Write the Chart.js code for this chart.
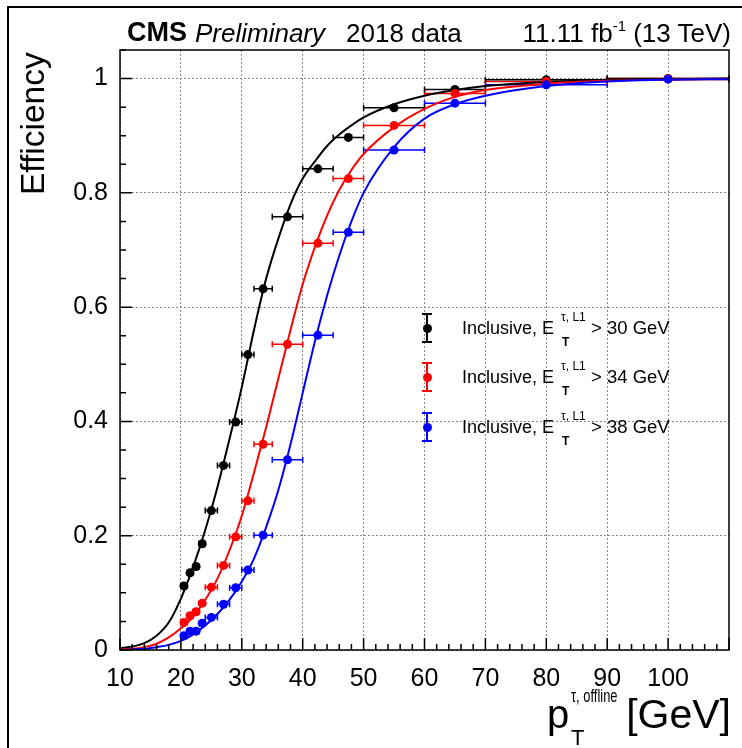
<!DOCTYPE html>
<html lang="en">
<head>
<meta charset="UTF-8">
<title>L1 tau trigger efficiency 2018</title>
<script src="https://cdn.jsdelivr.net/npm/chart.js@4.4.1/dist/chart.umd.min.js"></script>
<style>
  body { margin: 0; background: #fff; }
  #wrap { position: relative; width: 742px; height: 748px; overflow: hidden;
          font-family: "Liberation Sans", Arial, sans-serif; color: #000; }
  #frame { position: absolute; left: 7px; top: 6px; width: 800px; height: 800px;
           border-top: 2px solid #000; border-left: 2px solid #000; }
  canvas { position: absolute; left: 0; top: 0; }
  .t { position: absolute; white-space: nowrap; line-height: 1; }
  .mk { position: absolute; }
  .mk .bar { position: absolute; left: -1px; top: -14px; width: 2px; height: 28px; }
  .mk .cap { position: absolute; left: -5px; width: 10px; height: 2px; }
  .mk .dot { position: absolute; left: -4.5px; top: -4.5px; width: 9px; height: 9px; border-radius: 50%; }
</style>
</head>
<body>
<div id="wrap">
  <div id="frame"></div>
  <canvas id="chart" width="742" height="748"></canvas>

  <!-- header -->
  <div class="t" style="left:127px; top:19px; font-size:27px; font-weight:bold;">CMS</div>
  <div class="t" style="left:195px; top:20px; font-size:26px; font-style:italic;">Preliminary</div>
  <div class="t" style="left:346px; top:20px; font-size:26px;">2018 data</div>
  <div class="t" style="right:11px; top:20px; font-size:26px;">11.11 fb<span style="font-size:15px; position:relative; top:-11px;">-1</span> (13 TeV)</div>

  <!-- axis titles -->
  <div class="t" style="left:16px; top:195px; font-size:33.5px; transform-origin:0 0; transform:rotate(-90deg);">Efficiency</div>
  <div class="t" style="left:547px; top:694px; font-size:40px;">p</div>
  <div class="t" style="left:571px; top:686px; font-size:19px; transform-origin:0 0; transform:scaleX(0.68);">&tau;, offline</div>
  <div class="t" style="left:571px; top:727px; font-size:22px;">T</div>
  <div class="t" style="right:11px; top:694px; font-size:41px;">[GeV]</div>

  <!-- legend -->
  <div class="mk" style="left:427px; top:328px;"><div class="bar" style="background:#000"></div><div class="cap" style="top:-15px; background:#000"></div><div class="cap" style="top:13px; background:#000"></div><div class="dot" style="background:#000"></div></div>
  <div class="t" style="left:462px; top:319px; font-size:18px;">Inclusive, E</div>
  <div class="t" style="left:561px; top:311px; font-size:12px;">&tau;, L1</div>
  <div class="t" style="left:562px; top:336px; font-size:12px; font-weight:bold;">T</div>
  <div class="t" style="left:591px; top:319px; font-size:18.5px;">&gt; 30 GeV</div>

  <div class="mk" style="left:427px; top:377px;"><div class="bar" style="background:#f00"></div><div class="cap" style="top:-15px; background:#f00"></div><div class="cap" style="top:13px; background:#f00"></div><div class="dot" style="background:#f00"></div></div>
  <div class="t" style="left:462px; top:368px; font-size:18px;">Inclusive, E</div>
  <div class="t" style="left:561px; top:360px; font-size:12px;">&tau;, L1</div>
  <div class="t" style="left:562px; top:385px; font-size:12px; font-weight:bold;">T</div>
  <div class="t" style="left:591px; top:368px; font-size:18.5px;">&gt; 34 GeV</div>

  <div class="mk" style="left:427px; top:427px;"><div class="bar" style="background:#00f"></div><div class="cap" style="top:-15px; background:#00f"></div><div class="cap" style="top:13px; background:#00f"></div><div class="dot" style="background:#00f"></div></div>
  <div class="t" style="left:462px; top:418px; font-size:18px;">Inclusive, E</div>
  <div class="t" style="left:561px; top:410px; font-size:12px;">&tau;, L1</div>
  <div class="t" style="left:562px; top:435px; font-size:12px; font-weight:bold;">T</div>
  <div class="t" style="left:591px; top:418px; font-size:18.5px;">&gt; 38 GeV</div>
</div>

<script>
// offline tau pT bins [GeV]
const binCenter = [20.5, 21.5, 22.5, 23.5, 25, 27, 29, 31, 33.5, 37.5, 42.5, 47.5, 55, 65, 80, 100];
const binLow    = [20, 21, 22, 23, 24, 26, 28, 30, 32, 35, 40, 45, 50, 60, 70, 90];
const binHigh   = [21, 22, 23, 24, 26, 28, 30, 32, 35, 40, 45, 50, 60, 70, 90, 110];

// measured efficiencies per L1 threshold
const eff30 = [0.112, 0.135, 0.146, 0.186, 0.244, 0.323, 0.399, 0.517, 0.632, 0.758, 0.842, 0.897, 0.949, 0.981, 0.998, 1.0];
const eff34 = [0.048, 0.060, 0.067, 0.082, 0.110, 0.148, 0.198, 0.261, 0.360, 0.535, 0.712, 0.825, 0.918, 0.974, 0.995, 1.0];
const eff38 = [0.025, 0.033, 0.033, 0.047, 0.057, 0.080, 0.109, 0.140, 0.201, 0.333, 0.551, 0.731, 0.875, 0.957, 0.989, 0.999];

// fitted curves
const fitX  = [10, 12, 14, 16, 18, 20, 22, 24, 26, 28, 30, 32, 34, 36, 38, 40, 42, 44, 46, 48, 50, 55, 60, 65, 70, 80, 90, 100, 110];
const fit30 = [0.003, 0.006, 0.012, 0.025, 0.048, 0.09, 0.145, 0.21, 0.285, 0.37, 0.46, 0.56, 0.65, 0.72, 0.78, 0.825, 0.855, 0.882, 0.902, 0.918, 0.932, 0.955, 0.97, 0.98, 0.987, 0.994, 0.997, 0.999, 1.0];
const fit34 = [0.001, 0.002, 0.005, 0.011, 0.022, 0.038, 0.058, 0.088, 0.125, 0.175, 0.235, 0.31, 0.39, 0.475, 0.56, 0.64, 0.705, 0.76, 0.805, 0.84, 0.868, 0.915, 0.947, 0.968, 0.98, 0.991, 0.996, 0.998, 0.999];
const fit38 = [0.0, 0.001, 0.002, 0.005, 0.009, 0.016, 0.027, 0.043, 0.063, 0.088, 0.12, 0.16, 0.215, 0.28, 0.36, 0.45, 0.54, 0.62, 0.69, 0.75, 0.80, 0.88, 0.93, 0.955, 0.97, 0.987, 0.995, 0.998, 0.999];

const xTicks = [10, 20, 30, 40, 50, 60, 70, 80, 90, 100];
const yTicks = [0, 0.2, 0.4, 0.6, 0.8, 1];

const pts = (xs, ys) => xs.map((v, i) => ({x: v, y: ys[i]}));

function fitSet(data, color, order) {
  return { data: pts(fitX, data), showLine: true, borderColor: color, borderWidth: 2,
           pointRadius: 0, cubicInterpolationMode: 'monotone', order: order };
}
function effSet(data, color, order) {
  return { data: pts(binCenter, data), showLine: false, borderColor: color, backgroundColor: color,
           pointRadius: 4.5, pointBorderWidth: 0, order: order, xLow: binLow, xHigh: binHigh };
}

// horizontal bin-width bars
const errorBars = {
  id: 'errorBars',
  beforeDatasetsDraw(chart) {
    const {ctx, scales: {x, y}} = chart;
    chart.data.datasets.forEach(ds => {
      if (!ds.xLow) return;
      ctx.save();
      ctx.strokeStyle = ds.borderColor;
      ctx.lineWidth = 1.5;
      ds.data.forEach((p, k) => {
        const py = y.getPixelForValue(p.y);
        const x0 = x.getPixelForValue(ds.xLow[k]);
        const x1 = x.getPixelForValue(ds.xHigh[k]);
        ctx.beginPath();
        ctx.moveTo(x0, py); ctx.lineTo(x1, py);
        ctx.moveTo(x0, py - 3); ctx.lineTo(x0, py + 3);
        ctx.moveTo(x1, py - 3); ctx.lineTo(x1, py + 3);
        ctx.stroke();
      });
      ctx.restore();
    });
  }
};

// ROOT style frame with ticks pointing inwards
const rootFrame = {
  id: 'rootFrame',
  afterDatasetsDraw(chart) {
    const {ctx, chartArea: a, scales: {x, y}} = chart;
    ctx.save();
    ctx.strokeStyle = '#000';
    ctx.lineWidth = 1.5;
    ctx.strokeRect(a.left, a.top, a.right - a.left, a.bottom - a.top);
    ctx.beginPath();
    for (let v = 10; v <= 110; v += 2) {
      const px = x.getPixelForValue(v);
      const len = (v % 10 === 0) ? 12 : 6;
      ctx.moveTo(px, a.bottom); ctx.lineTo(px, a.bottom - len);
    }
    for (let i = 0; i <= 21; i++) {
      const py = y.getPixelForValue(i * 0.05);
      const len = (i % 4 === 0) ? 12 : 6;
      ctx.moveTo(a.left, py); ctx.lineTo(a.left + len, py);
    }
    ctx.stroke();
    ctx.restore();
  }
};

const tickFont = { family: '"Liberation Sans", Arial, sans-serif', size: 25 };

new Chart(document.getElementById('chart').getContext('2d'), {
  type: 'scatter',
  data: {
    datasets: [
      effSet(eff38, '#0000ff', 0),
      effSet(eff34, '#ff0000', 1),
      effSet(eff30, '#000000', 2),
      fitSet(fit38, '#0000ff', 3),
      fitSet(fit34, '#ff0000', 4),
      fitSet(fit30, '#000000', 5)
    ]
  },
  options: {
    responsive: false,
    animation: false,
    layout: { padding: { left: 8, top: 50, right: 13, bottom: 0 } },
    plugins: { legend: { display: false }, tooltip: { enabled: false } },
    scales: {
      x: {
        type: 'linear', min: 10, max: 110,
        afterBuildTicks: s => { s.ticks = xTicks.map(v => ({value: v})); },
        afterFit: s => { s.height = 98; },
        grid: { color: '#888', lineWidth: 1, drawTicks: false },
        border: { display: false, dash: [2, 2] },
        ticks: { color: '#000', font: tickFont, padding: 14, maxRotation: 0 }
      },
      y: {
        type: 'linear', min: 0, max: 1.05,
        afterBuildTicks: s => { s.ticks = yTicks.map(v => ({value: v})); },
        afterFit: s => { s.width = 112; },
        grid: { color: '#888', lineWidth: 1, drawTicks: false },
        border: { display: false, dash: [2, 2] },
        ticks: { color: '#000', font: tickFont, padding: 12, callback: v => String(+v.toFixed(2)) }
      }
    }
  },
  plugins: [errorBars, rootFrame]
});
</script>
</body>
</html>
